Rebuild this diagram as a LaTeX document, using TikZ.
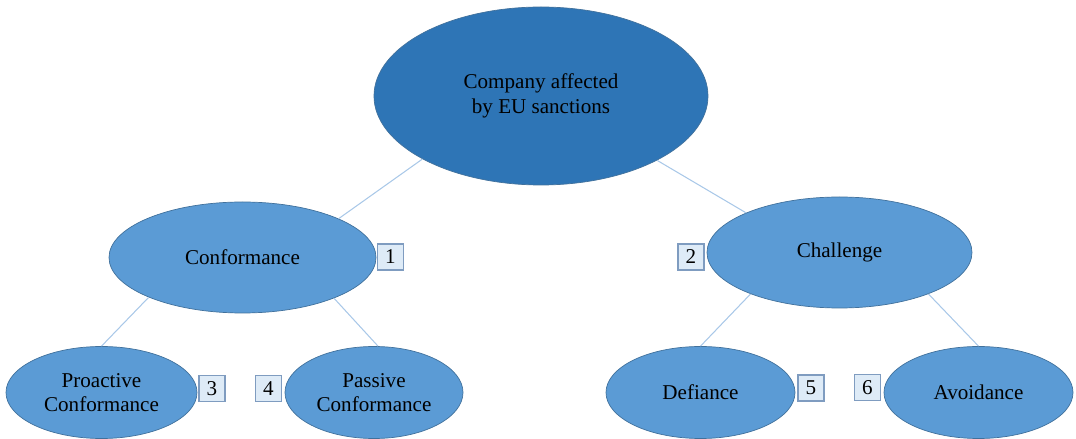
\documentclass[tikz,border=0pt]{standalone}
\usepackage{fontspec}
\setmainfont{Liberation Serif}
\usepackage{tikz}
\usetikzlibrary{shapes.geometric}

\definecolor{topblue}{HTML}{2E75B6}
\definecolor{midblue}{HTML}{5B9BD5}
\definecolor{rimblue}{HTML}{41719C}
\definecolor{linkblue}{HTML}{A9C8E8}
\definecolor{boxfill}{HTML}{DEEBF7}
\definecolor{boxrim}{HTML}{7F9CC0}

\tikzset{
    oval/.style={ellipse, draw=rimblue, fill=midblue, line width=0.4pt, inner sep=0pt, align=center, font=\fontsize{12}{14}\selectfont},
    rootoval/.style={oval, fill=topblue},
    numbox/.style={draw=boxrim, fill=boxfill, line width=0.6pt, minimum size=0.52cm, inner sep=0pt, font=\fontsize{12}{14}\selectfont},
    link/.style={draw=linkblue, line width=0.6pt}
}

\begin{document}
\begin{tikzpicture}
    	\useasboundingbox (0,0) rectangle (21.52,-8.78);

    	\node[rootoval, minimum width=6.68cm, minimum height=3.56cm] (company) at (10.82,-1.92) {Company affected\\by EU sanctions};
    	\node[oval, minimum width=5.34cm, minimum height=2.22cm] (conform) at (4.85,-5.15) {Conformance};
    	\node[oval, minimum width=5.3cm, minimum height=2.22cm] (challenge) at (16.79,-5.05) {Challenge};
    	\node[oval, minimum width=3.82cm, minimum height=1.84cm] (proactive) at (2.03,-7.85) {Proactive\\Conformance};
    	\node[oval, minimum width=3.56cm, minimum height=1.84cm] (passive) at (7.48,-7.85) {Passive\\Conformance};
    	\node[oval, minimum width=3.78cm, minimum height=1.84cm] (defiance) at (14.01,-7.85) {Defiance};
    	\node[oval, minimum width=3.78cm, minimum height=1.84cm] (avoid) at (19.57,-7.85) {Avoidance};

    	\node[numbox] (n1) at (7.81,-5.14) {1};
    	\node[numbox] (n2) at (13.82,-5.14) {2};
    	\node[numbox] (n3) at (4.24,-7.77) {3};
    	\node[numbox] (n4) at (5.37,-7.77) {4};
    	\node[numbox] (n5) at (16.22,-7.76) {5};
    	\node[numbox] (n6) at (17.35,-7.75) {6};

    	\path [link]
    		(company.208.6) edge (conform.22.5)
    		(company.331.7) edge (challenge.157.3)
    		(conform.203.7) edge (proactive.90)
    		(conform.336.3) edge (passive.85)
    		(challenge.205) edge (defiance.90)
    		(challenge.335) edge (avoid.90)
    	;
\end{tikzpicture}
\end{document}
